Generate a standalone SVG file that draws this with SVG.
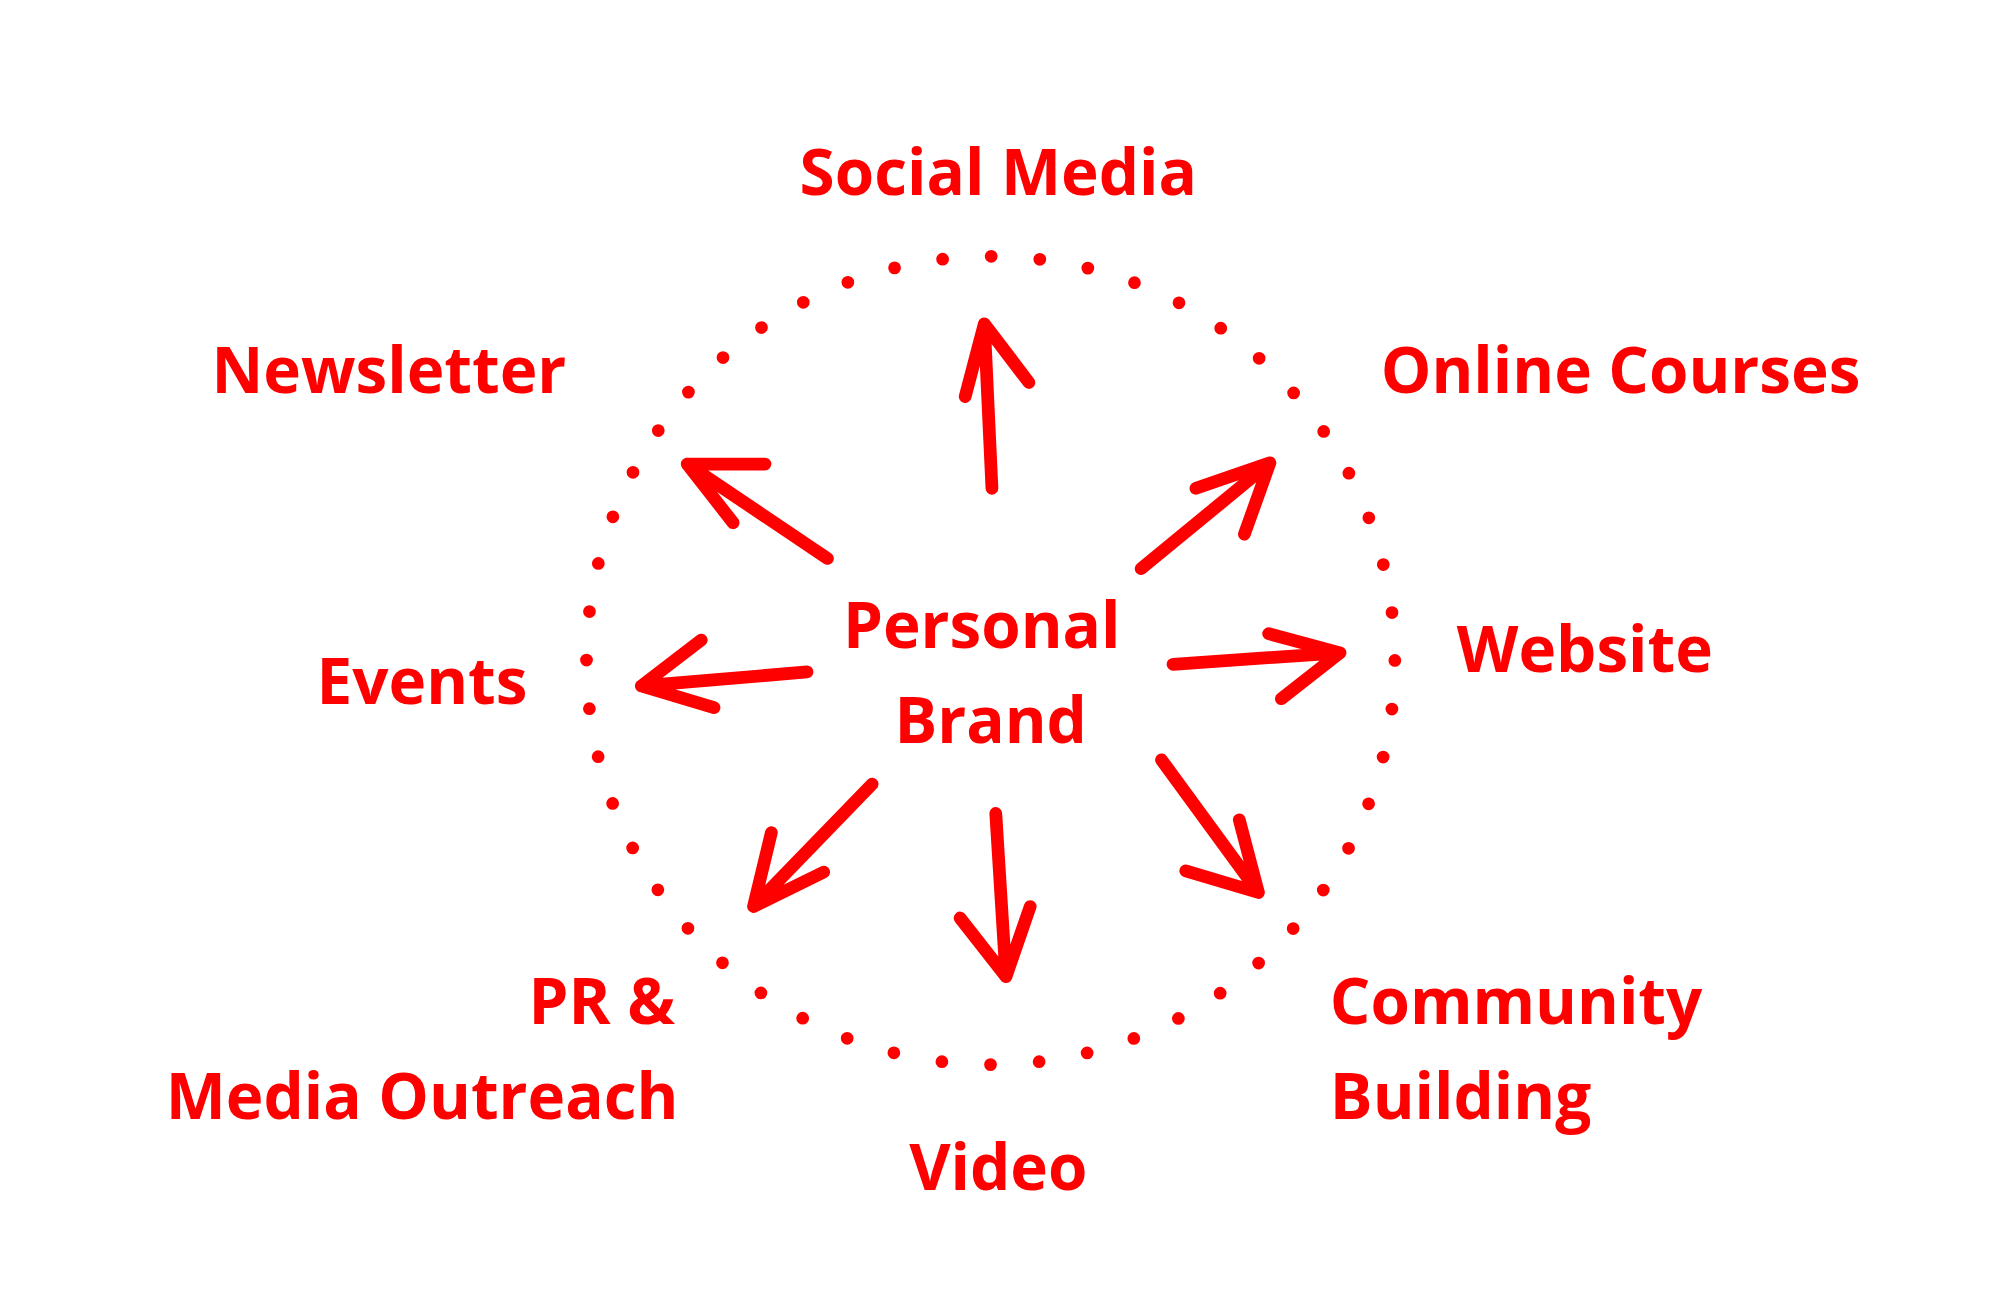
<svg xmlns="http://www.w3.org/2000/svg" width="1999" height="1293" viewBox="0 0 1999 1293">
<style>
text{font-family:"Open Sans","Liberation Sans",sans-serif;font-weight:bold;font-size:50px;fill:#ff0000}
.a{fill:none;stroke:#ff0000;stroke-width:10;stroke-linecap:round;stroke-linejoin:round}
</style>
<rect width="1999" height="1293" fill="#fff"/>
<g transform="scale(1.275)">
<circle cx="777" cy="518" r="317" fill="none" stroke="#ff0000" stroke-width="10" stroke-linecap="round" stroke-dasharray="0 38.3"/>
<g id="connectors">
<path class="a" d="M778,383 L772,254 M757,311 L772,254 L807,300"/>
<path class="a" d="M649,438 L539,364 M600,364 L539,364 L575,410"/>
<path class="a" d="M895,446 L996,363 M938,383 L996,363 L976,419"/>
<path class="a" d="M633,527 L503,538 M550,502 L503,538 L560,555"/>
<path class="a" d="M920,521 L1051,512 M995,497 L1051,512 L1005,548"/>
<path class="a" d="M684,615 L591,711 M605,653 L591,711 L646,684"/>
<path class="a" d="M781,638 L789,766 M753,720 L789,766 L808,711"/>
<path class="a" d="M911,596 L987,700 M930,683 L987,700 L972,643"/>
</g>
<g id="center"><text x="770" y="508" text-anchor="middle">Personal</text><text x="777" y="583" text-anchor="middle">Brand</text></g>
<g id="social"><text x="783" y="153" text-anchor="middle">Social Media</text></g>
<g id="newsletter"><text x="305" y="308" text-anchor="middle">Newsletter</text></g>
<g id="courses"><text x="1271" y="308" text-anchor="middle">Online Courses</text></g>
<g id="events"><text x="331" y="552" text-anchor="middle">Events</text></g>
<g id="website"><text x="1243" y="527" text-anchor="middle">Website</text></g>
<g id="pr"><text x="472" y="803" text-anchor="middle">PR &amp;</text><text x="331" y="878" text-anchor="middle">Media Outreach</text></g>
<g id="community"><text x="1043" y="803">Community</text><text x="1043" y="878">Building</text></g>
<g id="video"><text x="783" y="933" text-anchor="middle">Video</text></g>
</g>
</svg>
